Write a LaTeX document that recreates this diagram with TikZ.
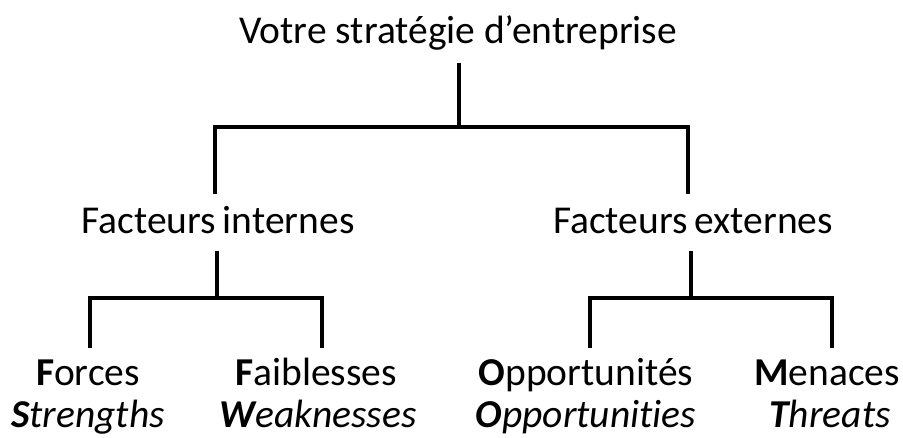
\documentclass[tikz,border=0pt]{standalone}
\usepackage{fontspec}
\setmainfont{Carlito}[Ligatures=NoCommon]
\begin{document}
\begin{tikzpicture}[x=1pt,y=-1pt,
  lbl/.style={font=\fontsize{39.5}{42}\selectfont, inner sep=0pt, anchor=base},
  tree/.style={line width=3.2pt, line cap=rect, line join=miter}]
\useasboundingbox (0,0) rectangle (903,437);
% labels
\node[lbl] (top) at (458,43) {Votre stratégie d’entreprise};
\node[lbl] (fi) at (218,233) {Facteurs\hspace{-2pt} internes};
\node[lbl] (fe) at (693,233) {Facteurs\hspace{-2pt} externes};
\node[lbl] (forces) at (88,385) {\textbf{F}orces};
\node[lbl] (strengths) at (88,427) {\itshape\textbf{S}trengths};
\node[lbl] (faib) at (316,385) {\textbf{F}aiblesses};
\node[lbl] (weak) at (318,427) {\itshape\textbf{W}eaknesses};
\node[lbl] (opp) at (586,385) {\textbf{O}pportunités};
\node[lbl] (opps) at (586,427) {\itshape\textbf{O}pportunities};
\node[lbl] (men) at (827,385) {\textbf{M}enaces};
\node[lbl] (thr) at (830,427) {\itshape\textbf{T}hreats};
% junction points of the brackets
\coordinate (j0) at (459,127);
\coordinate (j1) at (217,298);
\coordinate (j2) at (691,298);
\coordinate (b1) at (90,346);
\coordinate (b2) at (322,346);
\coordinate (b3) at (590,346);
\coordinate (b4) at (832,346);
\coordinate (m1) at (215,192);
\coordinate (m2) at (688,192);
% connectors
\draw[tree] (j0 |- 0,65) -- (j0);
\draw[tree] (m1) |- (j0) -| (m2);
\draw[tree] (j1 |- 0,253) -- (j1);
\draw[tree] (j2 |- 0,253) -- (j2);
\draw[tree] (b1) |- (j1) -| (b2);
\draw[tree] (b3) |- (j2) -| (b4);
\end{tikzpicture}
\end{document}
